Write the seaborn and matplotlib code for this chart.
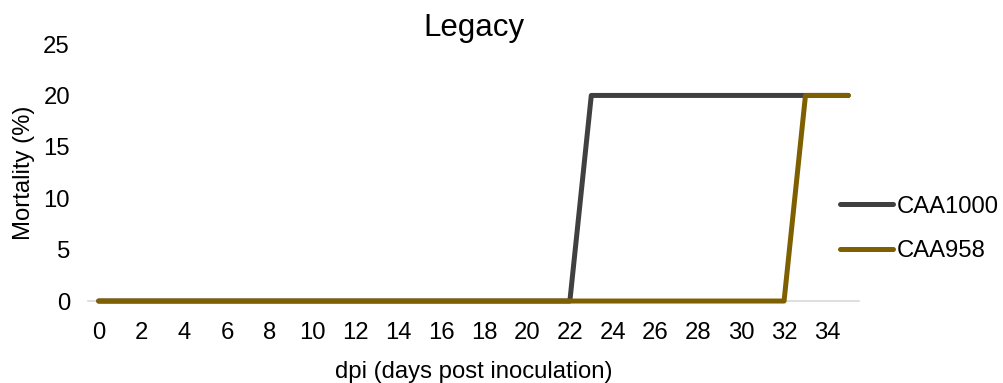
import numpy as np
import pandas as pd
import matplotlib
matplotlib.use("Agg")
import matplotlib.pyplot as plt
import seaborn as sns

days = list(range(0, 36))
caa1000 = [0]*23 + [20]*13          # 0 through day 22, 20% from day 23
caa958 = [0]*33 + [20]*3            # 0 through day 32, 20% from day 33
series_names = ["CAA1000", "CAA958"]
colors = ["#404040", "#7F6000"]
yticks = [0, 5, 10, 15, 20, 25]
xticks = list(range(0, 35, 2))

df = pd.DataFrame({
    "dpi": days * 2,
    "Mortality": caa1000 + caa958,
    "Series": [series_names[0]] * len(days) + [series_names[1]] * len(days),
})

sns.set_theme(style="white")
plt.rcParams["font.family"] = ["Liberation Sans", "DejaVu Sans"]
plt.rcParams["text.color"] = "black"
plt.rcParams["axes.labelcolor"] = "black"

FS = 17.2

fig = plt.figure(figsize=(10.04, 3.83), dpi=100)
ax = fig.add_axes([0.0876, 0.214, 0.768, 0.671])

sns.lineplot(data=df, x="dpi", y="Mortality", hue="Series",
             palette=dict(zip(series_names, colors)), linewidth=3.6,
             ax=ax, legend=True)
for ln in ax.get_lines():
    ln.set_solid_capstyle("round")
    ln.set_solid_joinstyle("round")
    ln.set_clip_on(False)

ax.set_xlim(-0.5, 35.5)
ax.set_ylim(0, 25)
ax.set_xticks(xticks)
ax.set_yticks(yticks)
ax.tick_params(axis="both", labelsize=FS, length=0, colors="black")
ax.tick_params(axis="x", pad=15)
ax.tick_params(axis="y", pad=13)
for s in ["top", "right", "left"]:
    ax.spines[s].set_visible(False)
ax.spines["bottom"].set_color("#d9d9d9")
ax.spines["bottom"].set_linewidth(1.2)
ax.spines["bottom"].set_zorder(0)
ax.set_xlabel("dpi (days post inoculation)", fontsize=FS, labelpad=12, color="black")
ax.set_ylabel("Mortality (%)", fontsize=FS, labelpad=6, color="black")
ax.set_title("Legacy", fontsize=22.5, pad=6, color="black")

handles, labels = ax.get_legend_handles_labels()
leg = ax.legend(handles, labels, loc="center left", bbox_to_anchor=(0.975, 0.28),
                frameon=False, fontsize=FS, handlelength=2.25, handletextpad=0.15,
                labelspacing=0.95, borderaxespad=0, borderpad=0)
for h in leg.get_lines():
    h.set_linewidth(3.6)
    h.set_solid_capstyle("round")
for t in leg.get_texts():
    t.set_color("black")

fig.savefig("out.png", dpi=100)
